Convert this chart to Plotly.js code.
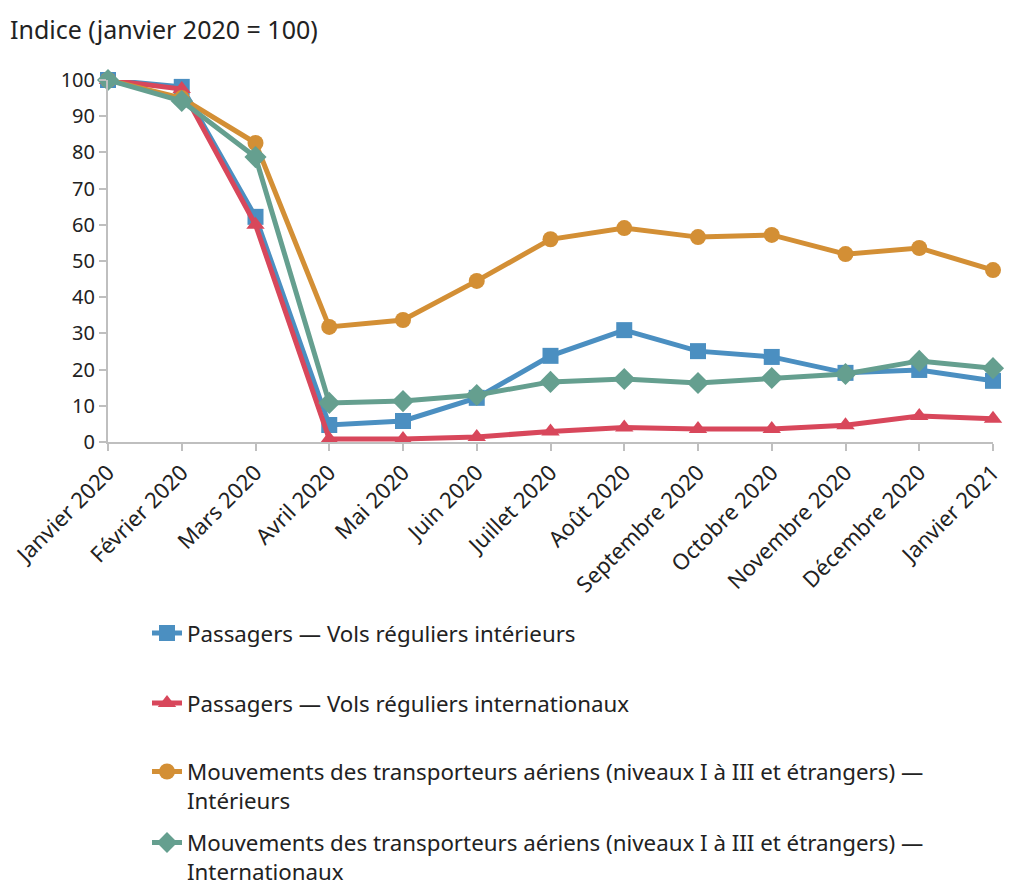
<!DOCTYPE html>
<html>
<head>
<meta charset="utf-8">
<script src="https://cdn.plot.ly/plotly-3.0.1.min.js"></script>
<style>html,body{margin:0;padding:0;background:#fff;}#chart{width:1009px;height:886px;}</style>
</head>
<body>
<div id="chart"></div>
<script>
const months = ["Janvier 2020","Février 2020","Mars 2020","Avril 2020","Mai 2020","Juin 2020","Juillet 2020","Août 2020","Septembre 2020","Octobre 2020","Novembre 2020","Décembre 2020","Janvier 2021"];
const passInterieurs = [100, 98.1, 62.2, 4.7, 5.8, 12.2, 23.8, 30.9, 25.1, 23.5, 19.1, 19.9, 16.9];
const passInternationaux = [100, 97.5, 60.0, 0.8, 0.8, 1.4, 2.9, 4.0, 3.6, 3.6, 4.6, 7.2, 6.4];
const mouvInterieurs = [100, 95.0, 82.6, 31.8, 33.7, 44.5, 56.0, 59.1, 56.6, 57.2, 51.9, 53.6, 47.5];
const mouvInternationaux = [100, 94.2, 78.7, 10.8, 11.3, 13.0, 16.6, 17.4, 16.3, 17.7, 18.8, 22.4, 20.4];
const seriesNames = [
  "Passagers — Vols réguliers intérieurs",
  "Passagers — Vols réguliers internationaux",
  "Mouvements des transporteurs aériens (niveaux I à III et étrangers) —<br>Intérieurs",
  "Mouvements des transporteurs aériens (niveaux I à III et étrangers) —<br>Internationaux"
];
const yTicks = [0,10,20,30,40,50,60,70,80,90,100];

const FONT = "Noto Sans, sans-serif";
const colors = ["#4B8FC1", "#D8475B", "#D38F35", "#659F8F"];
const symbols = ["square", "triangle-up", "circle", "diamond"];
const sizes = [16, 16, 16, 17];
const data = [passInterieurs, passInternationaux, mouvInterieurs, mouvInternationaux];
const legendIds = ["legend", "legend2", "legend3", "legend4"];

const traces = data.map((d, i) => ({
  type: "scatter",
  mode: "lines+markers",
  x: months.map((m, k) => k),
  y: d,
  name: seriesNames[i],
  legend: legendIds[i],
  line: {color: colors[i], width: 5},
  marker: {symbol: symbols[i], size: sizes[i], color: colors[i]},
  cliponaxis: false
}));
const W = 1009, H = 886;
const legendCenters = [633, 703, 786, 857];
const legendBase = {
  xref: "container", yref: "container",
  x: 147 / W, xanchor: "left", yanchor: "middle",
  bgcolor: "rgba(0,0,0,0)", borderwidth: 0,
  font: {family: FONT, size: 22.3, color: "#222"},
  valign: "top", itemwidth: 30
};
const layout = {
  width: W, height: H,
  paper_bgcolor: "#fff", plot_bgcolor: "#fff",
  margin: {l: 108, r: 16, t: 80, b: 444, autoexpand: false},
  showlegend: true,
  font: {family: FONT, color: "#222"},
  title: {text: "Indice (janvier 2020 = 100)", x: 10 / W, xanchor: "left", xref: "container",
          y: 1 - 30 / H, yanchor: "middle", yref: "container", font: {family: FONT, size: 25, color: "#222"}},
  xaxis: {
    type: "linear", range: [0, 12],
    tickmode: "array", tickvals: months.map((m, k) => k), ticktext: months,
    tickangle: -45, tickfont: {family: FONT, size: 22, color: "#222"},
    ticklabeloverflow: "allow",
    showline: true, linecolor: "#BFBFBF", linewidth: 2,
    ticks: "outside", ticklen: 7, tickcolor: "#BFBFBF", tickwidth: 2,
    showgrid: false, zeroline: false, fixedrange: true
  },
  yaxis: {
    range: [0, 100], tickmode: "array", tickvals: yTicks, ticktext: yTicks.map(String),
    tickfont: {family: FONT, size: 20, color: "#222"},
    showline: true, linecolor: "#BFBFBF", linewidth: 2,
    ticks: "outside", ticklen: 7, tickcolor: "#BFBFBF", tickwidth: 2,
    showgrid: false, zeroline: false, fixedrange: true
  }
};
legendIds.forEach((id, i) => {
  layout[id] = Object.assign({}, legendBase, {y: 1 - legendCenters[i] / H});
});
Plotly.newPlot("chart", traces, layout, {displayModeBar: false, staticPlot: true});
</script>
</body>
</html>
